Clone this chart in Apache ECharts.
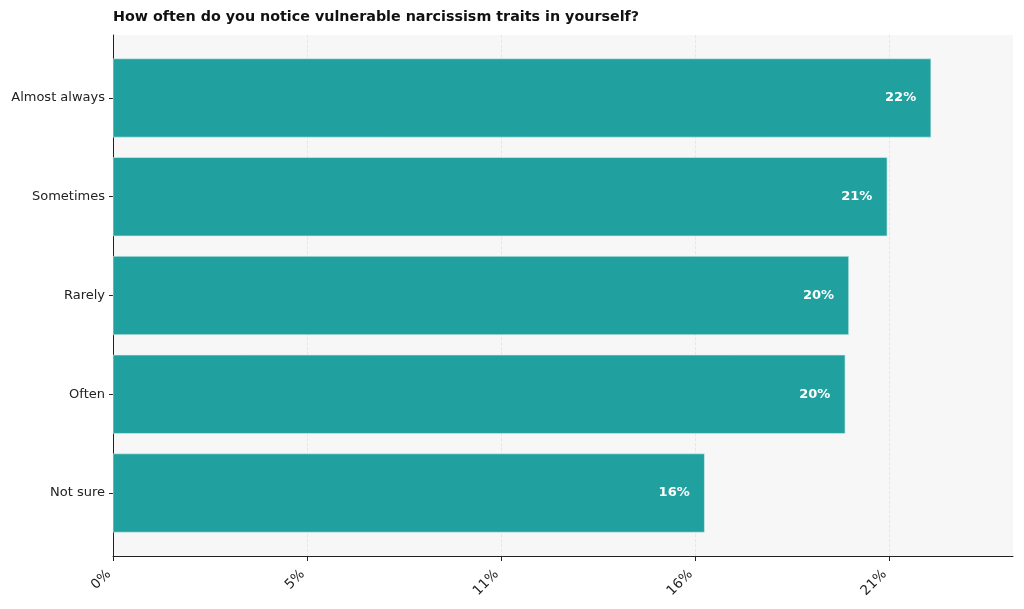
<!DOCTYPE html>
<html><head><meta charset="utf-8">
<script src="https://cdn.jsdelivr.net/npm/echarts@6/dist/echarts.min.js"></script>
<style>html,body{margin:0;padding:0;background:#fff}#c{width:1024px;height:609px}</style>
</head><body><div id="c"></div>
<script>
const titleText = 'How often do you notice vulnerable narcissism traits in yourself?';
const categories = ['Almost always', 'Sometimes', 'Rarely', 'Often', 'Not sure'];
const values = [22.4, 21.2, 20.15, 20.05, 16.2];
const tickStep = 5.31;

const maxVal = Math.max(...values);
const xMax = maxVal * 1.1;
const font = 'DejaVu Sans';
const chart = echarts.init(document.getElementById('c'));
chart.setOption({
  animation: false,
  backgroundColor: '#ffffff',
  title: {
    text: titleText, left: 108, top: 5,
    textStyle: {fontFamily: font, fontSize: 14.3, fontWeight: 'bold', color: '#111'}
  },
  grid: [
    {left: 113, right: 11, top: 35, bottom: 53, show: true, backgroundColor: '#f7f7f7', borderWidth: 0},
    {left: 113, right: 11, top: 48.6, bottom: 66.6, show: false}
  ],
  xAxis: [{
    gridIndex: 0, type: 'value', min: 0, max: xMax, interval: tickStep,
    axisLine: {show: true, lineStyle: {color: '#222', width: 1}},
    axisTick: {show: true, length: 5, lineStyle: {color: '#222'}},
    axisLabel: {rotate: 45, fontFamily: font, fontSize: 13.5, color: '#222', margin: 12,
      padding: [0, 6, 0, 0], showMaxLabel: false,
      formatter: v => Math.round(v) + '%'},
    splitLine: {show: true, showMinLine: false, showMaxLine: false,
      lineStyle: {color: '#e2e2e2', type: 'dashed', width: 0.8}}
  }, {
    gridIndex: 1, type: 'value', min: 0, max: xMax, show: false
  }],
  yAxis: [{
    gridIndex: 0, type: 'value', min: 0, max: 1,
    axisLine: {show: true, lineStyle: {color: '#222', width: 1}},
    axisTick: {show: false}, axisLabel: {show: false}, splitLine: {show: false}
  }, {
    gridIndex: 1, type: 'category', data: categories, inverse: true,
    axisLine: {show: false},
    axisTick: {show: true, alignWithLabel: true, length: 4, lineStyle: {color: '#222'}},
    axisLabel: {fontFamily: font, fontSize: 13, color: '#222', margin: 8},
    splitLine: {show: false}
  }],
  series: [{
    type: 'bar', xAxisIndex: 1, yAxisIndex: 1, data: values, barCategoryGap: '20%',
    itemStyle: {color: '#20a09e', borderColor: '#d6eeee', borderWidth: 0.6},
    label: {show: true, position: 'insideRight', distance: 15, color: '#fff',
      fontFamily: font, fontSize: 13, fontWeight: 'bold',
      formatter: p => Math.round(p.value) + '%'}
  }]
});
</script></body></html>
